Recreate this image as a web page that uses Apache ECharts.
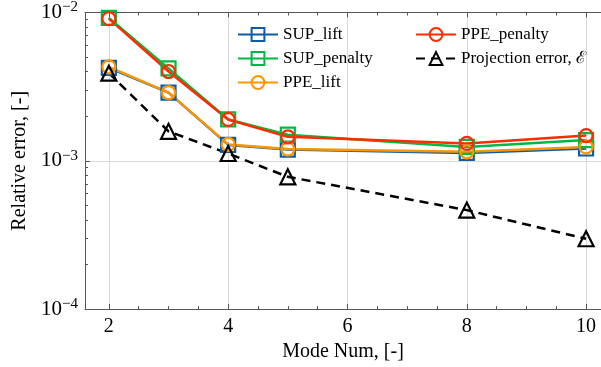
<!DOCTYPE html>
<html lang="en">
<head>
    <meta charset="UTF-8">
    <title>Relative error</title>
    <script src="https://cdn.jsdelivr.net/npm/echarts@6/dist/echarts.min.js"></script>
    <style>
        html, body { margin: 0; padding: 0; background: #fff; }
        #main { width: 601px; height: 367px; }
    </style>
</head>
<body>
    <div id="main"></div>
    <script>
        // data
        var modes = [2, 3, 4, 5, 8, 10];
        var supLift = [4.23e-3, 2.88e-3, 1.28e-3, 1.19e-3, 1.13e-3, 1.21e-3];
        var supPenalty = [9.2e-3, 4.2e-3, 1.9e-3, 1.5e-3, 1.24e-3, 1.38e-3];
        var ppeLift = [4.3e-3, 2.88e-3, 1.29e-3, 1.2e-3, 1.15e-3, 1.24e-3];
        var ppePenalty = [9.1e-3, 4.0e-3, 1.9e-3, 1.45e-3, 1.31e-3, 1.48e-3];
        var projError = [3.9e-3, 1.58e-3, 1.12e-3, 7.8e-4, 4.65e-4, 2.98e-4];

        var xTicks = [2, 4, 6, 8, 10];
        var xMinorTicks = [2.5, 3, 3.5, 4.5, 5, 5.5, 6.5, 7, 7.5, 8.5, 9, 9.5];
        var yTicks = [1e-4, 1e-3, 1e-2];
        var yMinorTicks = [2e-4, 3e-4, 4e-4, 5e-4, 6e-4, 7e-4, 8e-4, 9e-4,
            2e-3, 3e-3, 4e-3, 5e-3, 6e-3, 7e-3, 8e-3, 9e-3];

        var font = '"Liberation Serif", "DejaVu Serif", serif';
        var axisColor = '#555';
        var gridColor = '#d9d9d9';

        function pairs(ys) {
            return modes.map(function (m, i) { return [m, ys[i]]; });
        }

        function mk(name, ys, color, symbol, size, dashed) {
            return {
                name: name,
                type: 'line',
                data: pairs(ys),
                symbol: symbol,
                symbolSize: size,
                showAllSymbol: true,
                animation: false,
                lineStyle: { color: color, width: 2.5, type: dashed ? [9, 6] : 'solid' },
                itemStyle: { color: 'rgba(255,255,255,0)', borderColor: color, borderWidth: 2.2 }
            };
        }

        var xBase = { type: 'value', min: 1.6, max: 10.25, gridIndex: 0 };

        var chart = echarts.init(document.getElementById('main'));
        chart.setOption({
            backgroundColor: '#fff',
            textStyle: { fontFamily: font },
            grid: { left: 85, right: 0, top: 12, bottom: 52 },
            legend: [{
                orient: 'vertical', left: 232, top: 21, itemGap: 7, itemWidth: 40, itemHeight: 16,
                textStyle: { fontFamily: font, fontSize: 17, color: '#000' },
                data: ['SUP_lift', 'SUP_penalty', 'PPE_lift']
            }, {
                orient: 'vertical', left: 410, top: 21, itemGap: 7, itemWidth: 40, itemHeight: 16,
                textStyle: { fontFamily: font, fontSize: 17, color: '#000' },
                data: ['PPE_penalty', 'Projection error, ℰ']
            }],
            xAxis: [
                Object.assign({}, xBase, {
                    position: 'bottom',
                    name: 'Mode Num, [-]', nameLocation: 'middle', nameGap: 26,
                    nameTextStyle: { fontFamily: font, fontSize: 20, color: '#000' },
                    axisLine: { lineStyle: { color: axisColor } },
                    axisTick: { inside: true, length: 5, customValues: xTicks, lineStyle: { color: axisColor } },
                    axisLabel: { customValues: xTicks, fontFamily: font, fontSize: 20, color: '#000', margin: 8 },
                    splitLine: { show: true, lineStyle: { color: gridColor } }
                }),
                Object.assign({}, xBase, {
                    position: 'bottom',
                    axisLine: { show: false },
                    axisTick: { inside: true, length: 3, customValues: xMinorTicks, lineStyle: { color: axisColor } },
                    axisLabel: { show: false },
                    splitLine: { show: false }
                }),
                Object.assign({}, xBase, {
                    position: 'top',
                    axisLine: { lineStyle: { color: axisColor } },
                    axisTick: { inside: true, length: 5, customValues: xTicks, lineStyle: { color: axisColor } },
                    axisLabel: { show: false },
                    splitLine: { show: false }
                }),
                Object.assign({}, xBase, {
                    position: 'top',
                    axisLine: { show: false },
                    axisTick: { inside: true, length: 3, customValues: xMinorTicks, lineStyle: { color: axisColor } },
                    axisLabel: { show: false },
                    splitLine: { show: false }
                })
            ],
            yAxis: [{
                type: 'log', min: 1e-4, max: 1e-2, logBase: 10,
                name: 'Relative error, [-]', nameLocation: 'middle', nameGap: 53,
                nameTextStyle: { fontFamily: font, fontSize: 20, color: '#000' },
                axisLine: { show: true, lineStyle: { color: axisColor } },
                axisTick: { inside: true, length: 5, customValues: yTicks, lineStyle: { color: axisColor } },
                axisLabel: {
                    customValues: yTicks, margin: 7,
                    formatter: function (v) {
                        var e = Math.round(Math.log10(v));
                        return '{b|10}{s|' + String(e).replace('-', '\u2212') + '}';
                    },
                    rich: {
                        b: { fontFamily: font, fontSize: 21, color: '#000' },
                        s: { fontFamily: font, fontSize: 15, color: '#000', padding: [0, 0, 10, 0] }
                    }
                },
                splitLine: { show: true, lineStyle: { color: gridColor } }
            }, {
                type: 'log', min: 1e-4, max: 1e-2, logBase: 10, position: 'left',
                axisLine: { show: false },
                axisTick: { inside: true, length: 3, customValues: yMinorTicks, lineStyle: { color: axisColor } },
                axisLabel: { show: false },
                splitLine: { show: false }
            }],
            series: [
                mk('SUP_lift', supLift, '#0C5DA5', 'rect', 14, false),
                mk('SUP_penalty', supPenalty, '#00B945', 'rect', 14, false),
                mk('PPE_lift', ppeLift, '#FF9500', 'circle', 13, false),
                mk('PPE_penalty', ppePenalty, '#FF2C00', 'circle', 13, false),
                mk('Projection error, ℰ', projError, '#000000', 'triangle', 15, true)
            ]
        });
    </script>
</body>
</html>
